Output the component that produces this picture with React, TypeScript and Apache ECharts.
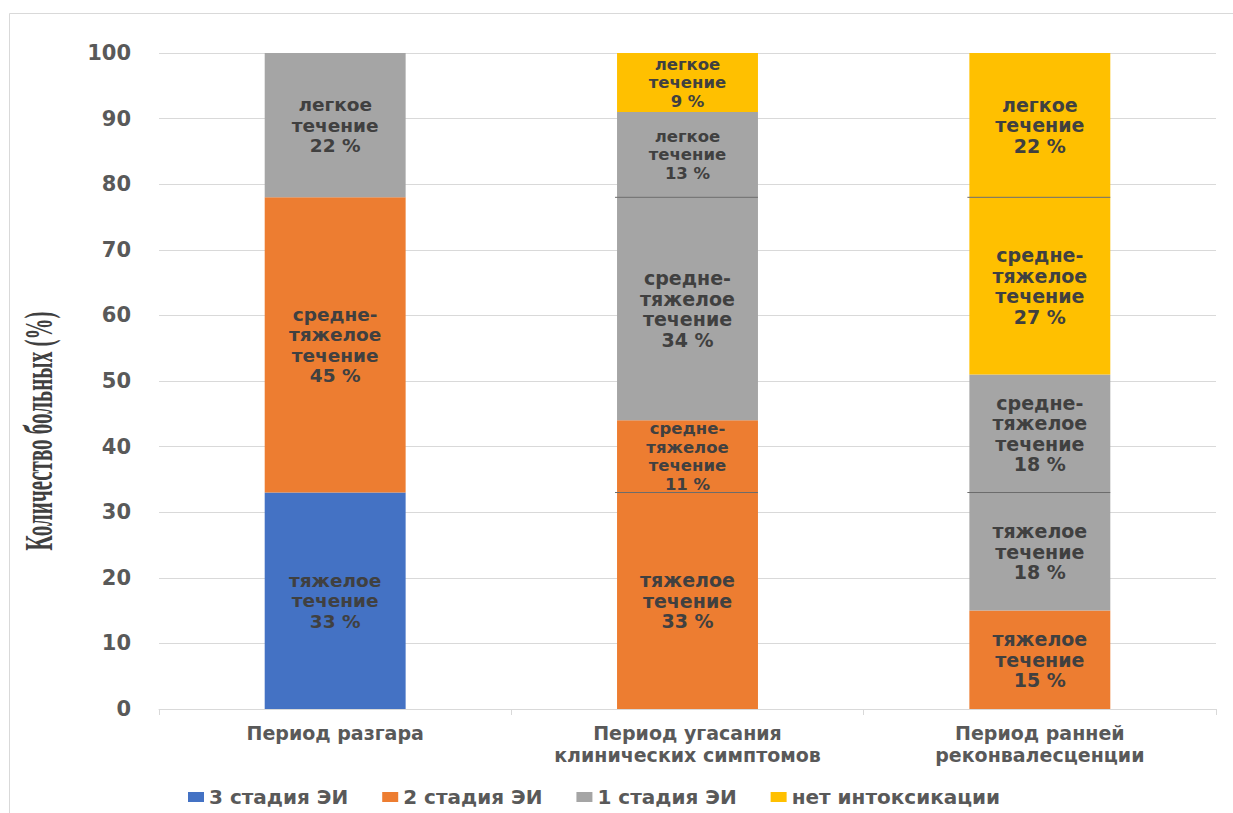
import React, { useEffect, useRef } from "react";
import * as echarts from "echarts";

const categories = [
  "Период разгара",
  "Период угасания\nклинических симптомов",
  "Период ранней\nреконвалесценции",
];
const yTicks = { min: 0, max: 100, interval: 10 };

// stage names (legend)
const stages = ["3 стадия ЭИ", "2 стадия ЭИ", "1 стадия ЭИ", "нет интоксикации"];
const stageColors = ["#4472C4", "#ED7D31", "#A5A5A5", "#FFC000"];

// severity captions
const severityHeavy = "тяжелое\nтечение";
const severityMedium = "средне-\nтяжелое\nтечение";
const severityLight = "легкое\nтечение";

// segments, bottom to top
const stage3Heavy = [33, null, null];
const stage2Heavy = [null, 33, 15];
const stage2Medium = [45, 11, null];
const stage1Heavy = [null, null, 18];
const stage1Medium = [null, 34, 18];
const stage1Light = [22, 13, null];
const noneMedium = [null, null, 27];
const noneLight = [null, 9, 22];

const segments = [
  { stage: 0, caption: severityHeavy, values: stage3Heavy },
  { stage: 1, caption: severityHeavy, values: stage2Heavy },
  { stage: 1, caption: severityMedium, values: stage2Medium },
  { stage: 2, caption: severityHeavy, values: stage1Heavy },
  { stage: 2, caption: severityMedium, values: stage1Medium },
  { stage: 2, caption: severityLight, values: stage1Light },
  { stage: 3, caption: severityMedium, values: noneMedium },
  { stage: 3, caption: severityLight, values: noneLight },
];

const FONT = "'DejaVu Sans', sans-serif";

export default function App() {
  const ref = useRef<HTMLDivElement>(null);
  useEffect(() => {
    if (!ref.current) return;
    const chart = echarts.init(ref.current, undefined, { renderer: "svg" });

    // separator positions between consecutive segments of the same stage
    const separators: number[][] = [];
    categories.forEach((_, ci) => {
      let cum = 0;
      let prevStage = -1;
      segments.forEach((s) => {
        const v = s.values[ci];
        if (v == null) return;
        if (s.stage === prevStage) separators.push([ci, cum]);
        cum += v;
        prevStage = s.stage;
      });
    });

    const barSeries = segments.map((s) => ({
      type: "bar",
      name: stages[s.stage],
      stack: "total",
      barWidth: "40%",
      itemStyle: { color: stageColors[s.stage] },
      data: s.values.map((v, ci) =>
        v == null
          ? "-"
          : {
              value: v,
              label: {
                fontSize: v <= 13 ? 16.5 : ci === 0 ? 18.5 : 19,
                lineHeight: v <= 13 ? 18.5 : 20.5,
              },
            }
      ),
      label: {
        show: true,
        position: "inside",
        color: "#404040",
        fontFamily: FONT,
        fontWeight: "bold",
        formatter: (p: any) => `${s.caption}\n${p.value} %`,
      },
    }));

    chart.setOption({
      animation: false,
      backgroundColor: "#ffffff",
      grid: { left: 159, right: 17, top: 53, bottom: 104 },
      legend: {
        data: stages,
        left: 183,
        top: 782,
        icon: "rect",
        itemWidth: 16,
        itemHeight: 10,
        itemGap: 34,
        textStyle: { fontFamily: FONT, fontWeight: "bold", fontSize: 20, color: "#595959" },
      },
      xAxis: {
        type: "category",
        data: categories,
        axisLine: { lineStyle: { color: "#D9D9D9", width: 1 } },
        axisTick: { show: true, length: 6, lineStyle: { color: "#D9D9D9" } },
        axisLabel: {
          interval: 0,
          hideOverlap: false,
          fontFamily: FONT,
          fontWeight: "bold",
          fontSize: 19,
          lineHeight: 22,
          color: "#595959",
          margin: 13,
        },
      },
      yAxis: {
        type: "value",
        min: yTicks.min,
        max: yTicks.max,
        interval: yTicks.interval,
        axisLine: { show: false },
        axisTick: { show: false },
        splitLine: { lineStyle: { color: "#D9D9D9", width: 1 } },
        axisLabel: {
          fontFamily: FONT,
          fontWeight: "bold",
          fontSize: 21,
          color: "#595959",
          margin: 28,
        },
      },
      graphic: [
        {
          type: "rect",
          silent: true,
          shape: { x: 9.5, y: 13.5, width: 1240, height: 820 },
          style: { fill: "none", stroke: "#D9D9D9", lineWidth: 1 },
        },
        {
          type: "text",
          silent: true,
          x: 38,
          y: 431,
          rotation: Math.PI / 2,
          scaleY: 1.95,
          style: {
            text: "Количество больных (%)",
            font: "bold 21px 'Liberation Serif', serif",
            fill: "#404040",
            align: "center",
            verticalAlign: "middle",
          },
        },
      ],
      series: [
        ...barSeries,
        {
          type: "custom",
          name: "separators",
          z: 5,
          encode: { x: 0, y: 1 },
          data: separators,
          renderItem: (params: any, api: any) => {
            const c = api.coord([api.value(0), api.value(1)]);
            const w = api.size([1, 0])[0] * 0.4;
            return {
              type: "line",
              shape: { x1: c[0] - w / 2 - 2, y1: c[1], x2: c[0] + w / 2, y2: c[1] },
              style: { stroke: "#6b6b6b", lineWidth: 1 },
            };
          },
        },
      ],
    });
    return () => chart.dispose();
  }, []);
  return (
    <div
      ref={ref}
      style={{ position: "fixed", left: 0, top: 0, width: 1233, height: 813, background: "#fff" }}
    />
  );
}
